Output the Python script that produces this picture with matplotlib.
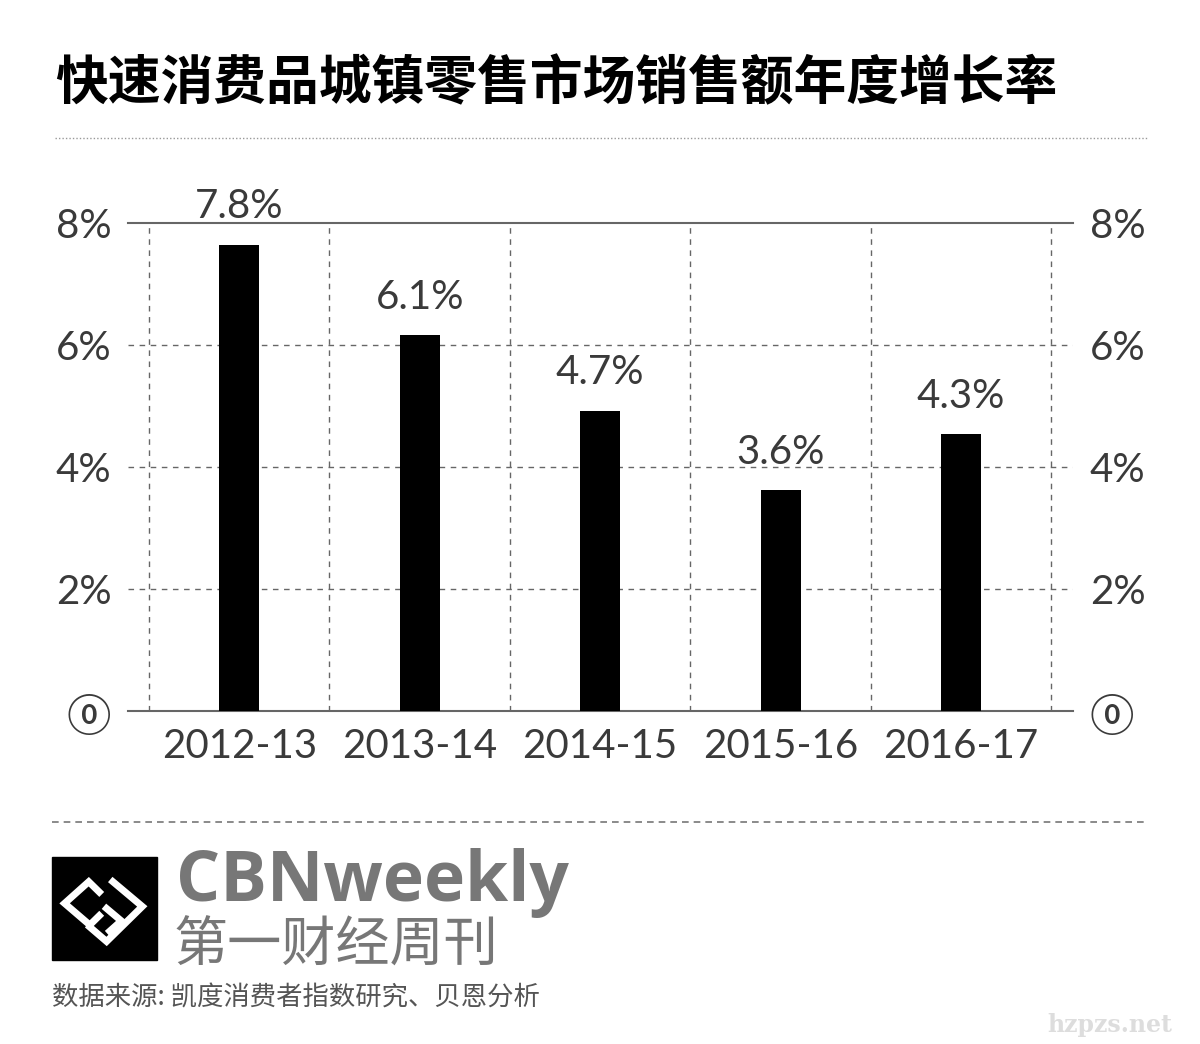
import numpy as np
import matplotlib
matplotlib.use('Agg')
import matplotlib.pyplot as plt
from matplotlib.lines import Line2D
from matplotlib.patches import Rectangle

plt.rcParams['font.family'] = ['Noto Sans CJK SC', 'DejaVu Sans']

# data
years = ['2012-13', '2013-14', '2014-15', '2015-16', '2016-17']
bar_heights = [7.64, 6.16, 4.92, 3.62, 4.54]
value_labels = ['7.8%', '6.1%', '4.7%', '3.6%', '4.3%']
y_ticks = [0, 2, 4, 6, 8]
y_tick_labels = ['⓪', '2%', '4%', '6%', '8%']

title = '快速消费品城镇零售市场销售额年度增长率'
source = '数据来源: 凯度消费者指数研究、贝恩分析'

num_font = ['Lato', 'DejaVu Sans']
grey = '#3a3a3a'
line_grey = '#666666'

fig = plt.figure(figsize=(12, 10.44), dpi=100)
fig.patch.set_facecolor('white')

ax = fig.add_axes([0.1067, 0.319, 0.7875, 0.4674])
x = np.arange(len(years))
ax.bar(x, bar_heights, width=0.22, color='black', zorder=3)

# dashed grid
for yv in y_ticks[1:-1]:
    ax.axhline(yv, color=line_grey, lw=1, ls=(0, (4, 4)), zorder=1)
for xv in np.arange(len(years) + 1) - 0.5:
    ax.axvline(xv, color=line_grey, lw=1, ls=(0, (4, 4)), zorder=1)

ax.set_xlim(-0.616, len(years) - 0.38)
ax.set_ylim(0, 8)

for s in ['left', 'right']:
    ax.spines[s].set_visible(False)
for s in ['top', 'bottom']:
    ax.spines[s].set_color(line_grey)
    ax.spines[s].set_linewidth(1.5)

ax.set_xticks(x)
ax.set_xticklabels(years, fontsize=29, color=grey, family=num_font)
ax.set_yticks(y_ticks)
ax.set_yticklabels(y_tick_labels, fontsize=29, color=grey, family=num_font)
ax.tick_params(axis='x', length=0, pad=12)
ax.tick_params(axis='y', length=0, pad=12, labelright=True)
for lab in ax.get_yticklabels():
    lab.set_fontfamily(num_font)

for xi, h, lab in zip(x, bar_heights, value_labels):
    ax.text(xi, h + 0.32, lab, ha='center', va='bottom', fontsize=29,
            color=grey, family=num_font)

# title and separators
fig.text(0.046, 0.92, title, fontsize=38, fontweight='bold', color='black',
         va='center', ha='left')
fig.add_artist(Line2D([0.046, 0.956], [0.868, 0.868], color='#999999', lw=1,
                      ls=(0, (1, 1.5)), transform=fig.transFigure))
fig.add_artist(Line2D([0.043, 0.956], [0.2126, 0.2126], color='#777777', lw=1.2,
                      ls=(0, (4, 3)), transform=fig.transFigure))

# logo block
W, H = 1200.0, 1044.0
fig.add_artist(Rectangle((52 / W, 1 - 960 / H), 105 / W, 103 / H,
                         color='black', transform=fig.transFigure))
def logo_line(pts):
    xs = [(52 + u * 105) / W for u, v in pts]
    ys = [1 - (857 + v * 103) / H for u, v in pts]
    fig.add_artist(Line2D(xs, ys, color='white', lw=5, solid_joinstyle='miter',
                          transform=fig.transFigure))
logo_line([(0.45, 0.34), (0.35, 0.24), (0.12, 0.45), (0.36, 0.66), (0.45, 0.57)])
logo_line([(0.58, 0.24), (0.86, 0.48), (0.52, 0.82), (0.36, 0.68)])
logo_line([(0.52, 0.50), (0.66, 0.62), (0.55, 0.72)])

fig.text(176 / W, 1 - 901 / H, 'CBNweekly', fontsize=50, fontweight='bold',
         color='#777777', family=['Open Sans', 'DejaVu Sans'], va='baseline', ha='left')
fig.text(174 / W, 1 - 962 / H, '第一财经周刊', fontsize=39, color='#777777',
         va='baseline', ha='left')
fig.text(52 / W, 1 - 998 / H, source, fontsize=19, color='#555555',
         va='center', ha='left')
fig.text(1110 / W, 1 - 1025 / H, 'hzpzs.net', fontsize=17, color='#dddddd',
         family='DejaVu Serif', fontweight='bold', va='center', ha='center')

fig.savefig('out.png', dpi=100, facecolor='white')
